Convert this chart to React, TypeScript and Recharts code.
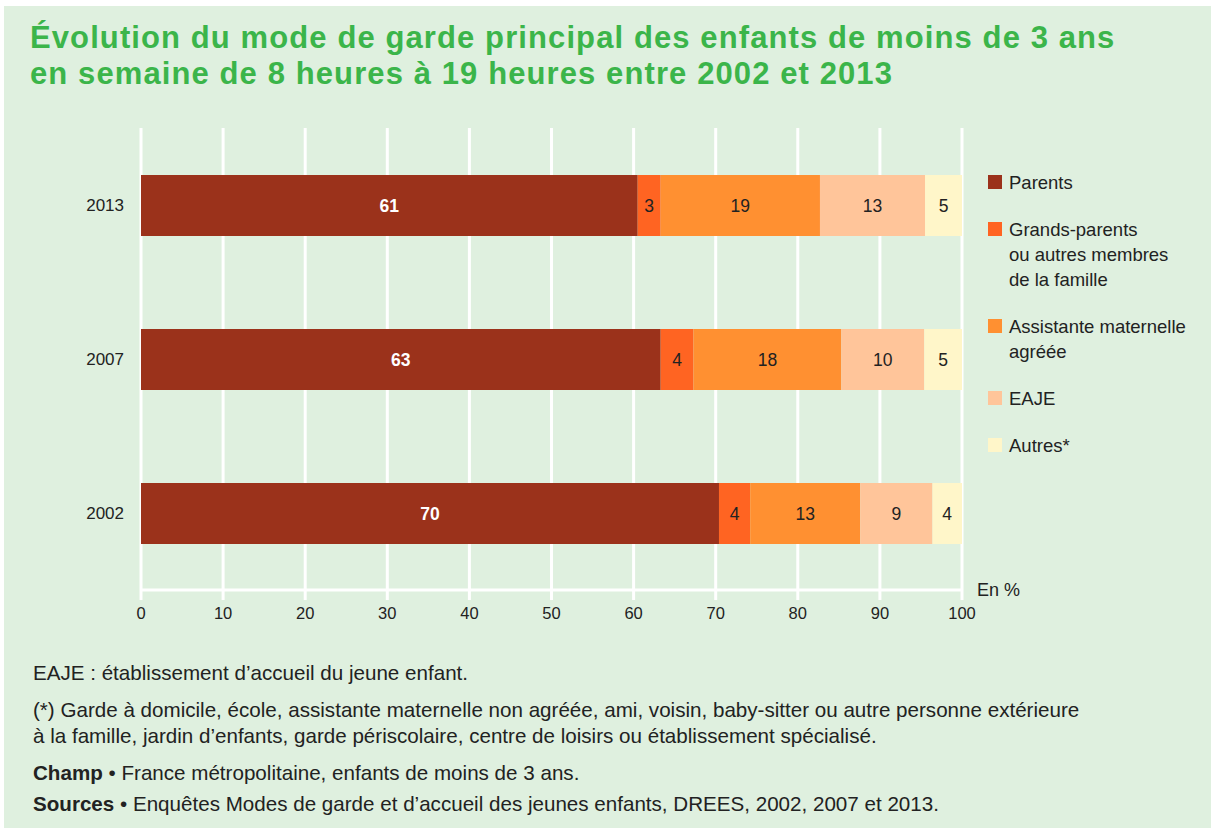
import React from 'react';
import { Bar, BarChart, CartesianGrid, LabelList, Legend, XAxis, YAxis } from 'recharts';

const years = ['2013', '2007', '2002'];
const parents = [60.5, 63.3, 70.4];
const grandsParents = [2.8, 4.0, 3.8];
const assistante = [19.4, 18.0, 13.4];
const eaje = [12.8, 10.1, 8.8];
const autres = [4.5, 4.6, 3.6];
const xTicks = [0, 10, 20, 30, 40, 50, 60, 70, 80, 90, 100];

const series = [
  { key: 'parents', name: ['Parents'], color: '#9b321b', label: '#ffffff' },
  { key: 'grandsParents', name: ['Grands-parents', 'ou autres membres', 'de la famille'], color: '#ff6422', label: '#222222' },
  { key: 'assistante', name: ['Assistante maternelle', 'agréée'], color: '#ff9031', label: '#222222' },
  { key: 'eaje', name: ['EAJE'], color: '#ffc59a', label: '#222222' },
  { key: 'autres', name: ['Autres*'], color: '#fff6c9', label: '#222222' },
];

const data = years.map((year, i) => ({
  year,
  parents: parents[i],
  grandsParents: grandsParents[i],
  assistante: assistante[i],
  eaje: eaje[i],
  autres: autres[i],
}));

const FONT = '"Liberation Sans", Arial, sans-serif';
const BG = '#dff0df';

const LegendBox = () => (
  <div style={{ fontFamily: FONT, fontSize: 18.5, color: '#222', lineHeight: '25px' }}>
    {series.map((s) => (
      <div key={s.key} style={{ display: 'flex', alignItems: 'flex-start', marginBottom: 22 }}>
        <span style={{ width: 14, height: 14, background: s.color, marginTop: 5, marginRight: 7, flex: 'none' }} />
        <div>
          {s.name.map((line) => (
            <div key={line}>{line}</div>
          ))}
        </div>
      </div>
    ))}
  </div>
);

const App = () => {
  return (
    <div style={{ position: 'absolute', left: 0, top: 0, width: 1211, height: 830, background: '#fff' }}>
      <div style={{ position: 'absolute', left: 4, top: 6, width: 1207, height: 822, background: BG }} />
      <div
        style={{
          position: 'absolute',
          left: 30,
          top: 20,
          fontFamily: FONT,
          fontWeight: 700,
          fontSize: 31,
          lineHeight: '36px',
          letterSpacing: 1.1,
          color: '#3bb54a',
        }}
      >
        <div>Évolution du mode de garde principal des enfants de moins de 3 ans</div>
        <div>en semaine de 8 heures à 19 heures entre 2002 et 2013</div>
      </div>
      <div style={{ position: 'absolute', left: 0, top: 0 }}>
        <BarChart
          width={1211}
          height={660}
          data={data}
          layout="vertical"
          margin={{ top: 128, right: 249, bottom: 40, left: 81 }}
        >
          <CartesianGrid horizontal={false} stroke="#ffffff" strokeWidth={3} />
          <XAxis
            type="number"
            domain={[0, 100]}
            ticks={xTicks}
            height={30}
            axisLine={{ stroke: '#ffffff', strokeWidth: 3 }}
            tickLine={{ stroke: '#ffffff', strokeWidth: 3 }}
            tickSize={10}
            tickMargin={7}
            tick={{ fill: '#222', fontSize: 16.5, fontFamily: FONT }}
            label={({ viewBox }: any) => (
              <text x={viewBox.x + viewBox.width + 15} y={viewBox.y + 6} fill="#222" fontSize={18} fontFamily={FONT}>
                En %
              </text>
            )}
          />
          <YAxis
            type="category"
            dataKey="year"
            width={60}
            axisLine={false}
            tickLine={false}
            tickMargin={11}
            tick={{ fill: '#222', fontSize: 17, fontFamily: FONT }}
          />
          <Legend
            layout="vertical"
            align="center"
            verticalAlign="middle"
            wrapperStyle={{ left: 988, top: 170, width: 220 }}
            content={() => <LegendBox />}
          />
          {series.map((s) => (
            <Bar key={s.key} dataKey={s.key} stackId="a" fill={s.color} barSize={61} isAnimationActive={false}>
              <LabelList
                dataKey={s.key}
                position="center"
                formatter={(v: any) => Math.round(Number(v))}
                fill={s.label}
                fontSize={17.5}
                fontFamily={FONT}
                fontWeight={s.key === 'parents' ? 700 : 400}
              />
            </Bar>
          ))}
        </BarChart>
      </div>
      <div
        style={{
          position: 'absolute',
          left: 33,
          top: 660,
          fontFamily: FONT,
          fontSize: 20.6,
          color: '#222',
          lineHeight: '26px',
        }}
      >
        <div style={{ marginBottom: 11 }}>EAJE : établissement d’accueil du jeune enfant.</div>
        <div>(*) Garde à domicile, école, assistante maternelle non agréée, ami, voisin, baby-sitter ou autre personne extérieure</div>
        <div style={{ marginBottom: 11 }}>à la famille, jardin d’enfants, garde périscolaire, centre de loisirs ou établissement spécialisé.</div>
        <div style={{ marginBottom: 5 }}>
          <b>Champ</b> • France métropolitaine, enfants de moins de 3 ans.
        </div>
        <div>
          <b>Sources</b> • Enquêtes Modes de garde et d’accueil des jeunes enfants, DREES, 2002, 2007 et 2013.
        </div>
      </div>
    </div>
  );
};

export default App;
